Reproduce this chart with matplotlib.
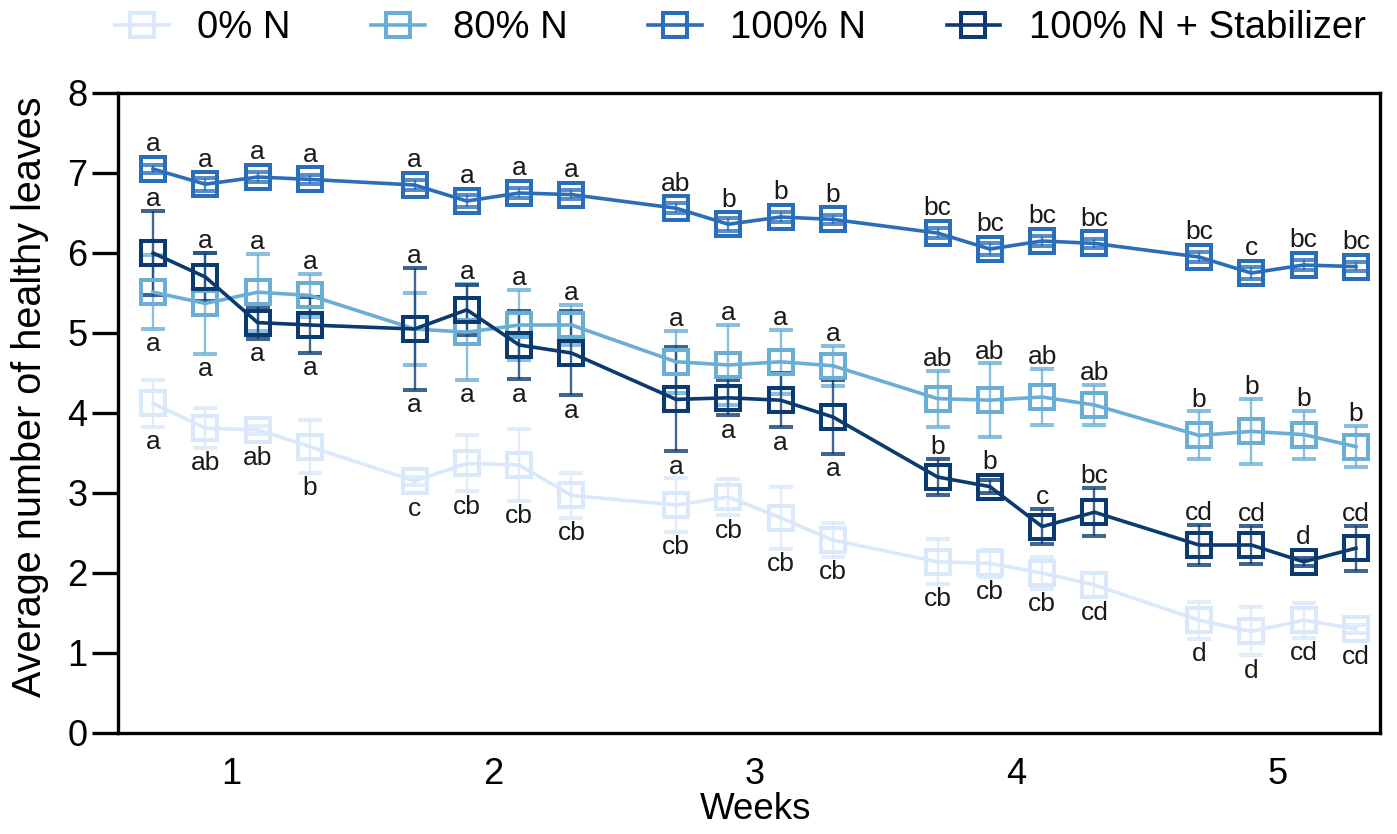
import numpy as np
import matplotlib
matplotlib.use("Agg")
import matplotlib.pyplot as plt
from matplotlib.lines import Line2D
from matplotlib.colors import to_rgba

plt.rcParams['font.family'] = ['Liberation Sans', 'DejaVu Sans']

# ---- data -------------------------------------------------------------
weeks = [1, 2, 3, 4, 5]
samples_per_week = 4

series_names = ["0% N", "80% N", "100% N", "100% N + Stabilizer"]
series_colors = ["#d9e8fb", "#6aaed6", "#2a6db8", "#0a3a70"]

n0_mean = [4.12, 3.81, 3.79, 3.58, 3.15, 3.37, 3.35, 2.97, 2.85, 2.95,
           2.69, 2.41, 2.14, 2.12, 2.00, 1.85, 1.41, 1.27, 1.41, 1.30]
n0_err = [0.29, 0.25, 0.05, 0.33, 0.05, 0.35, 0.45, 0.28, 0.34, 0.23,
          0.39, 0.21, 0.28, 0.17, 0.20, 0.15, 0.23, 0.30, 0.22, 0.05]
n0_letters = ["a", "ab", "ab", "b", "c", "cb", "cb", "cb", "cb", "cb",
              "cb", "cb", "cb", "cb", "cb", "cd", "d", "d", "cd", "cd"]

n80_mean = [5.51, 5.37, 5.51, 5.47, 5.05, 5.01, 5.10, 5.10, 4.64, 4.60,
            4.64, 4.59, 4.18, 4.16, 4.20, 4.10, 3.72, 3.77, 3.73, 3.58]
n80_err = [0.46, 0.63, 0.48, 0.27, 0.45, 0.60, 0.44, 0.25, 0.39, 0.50,
           0.40, 0.25, 0.35, 0.46, 0.35, 0.25, 0.30, 0.41, 0.30, 0.26]
n80_letters = ["a"] * 12 + ["ab"] * 4 + ["b"] * 4

n100_mean = [7.05, 6.86, 6.95, 6.92, 6.85, 6.65, 6.75, 6.73, 6.56, 6.36,
             6.45, 6.42, 6.25, 6.05, 6.15, 6.12, 5.95, 5.75, 5.85, 5.83]
n100_err = [0.05, 0.08, 0.06, 0.06, 0.06, 0.08, 0.06, 0.06, 0.06, 0.08,
            0.06, 0.06, 0.06, 0.08, 0.06, 0.06, 0.06, 0.08, 0.06, 0.06]
n100_letters = ["a"] * 8 + ["ab", "b", "b", "b"] + ["bc"] * 4 + ["bc", "c", "bc", "bc"]

stab_mean = [6.00, 5.70, 5.13, 5.10, 5.05, 5.29, 4.85, 4.75, 4.17, 4.19,
             4.16, 3.95, 3.20, 3.08, 2.58, 2.76, 2.35, 2.35, 2.14, 2.31]
stab_err = [0.53, 0.30, 0.20, 0.35, 0.76, 0.31, 0.43, 0.53, 0.65, 0.22,
            0.34, 0.46, 0.23, 0.08, 0.22, 0.30, 0.25, 0.24, 0.05, 0.28]
stab_letters = ["a"] * 12 + ["b", "b", "c", "bc", "cd", "cd", "d", "cd"]

# which side of each point its letter sits on (+1 above, -1 below)
n0_side = [-1] * 20
n80_side = [-1, -1, 1, 1, -1, -1, 1, 1] + [1] * 12
n100_side = [1] * 20
stab_side = [1, 1, -1, -1, 1, 1, -1, -1, -1, -1, -1, -1] + [1] * 8

means = [n0_mean, n80_mean, n100_mean, stab_mean]
errs = [n0_err, n80_err, n100_err, stab_err]
letters = [n0_letters, n80_letters, n100_letters, stab_letters]
sides = [n0_side, n80_side, n100_side, stab_side]

# ---- positions: four samples per week with a gap between weeks ----------
x = np.array([w * (samples_per_week + 1) + j
              for w in range(len(weeks)) for j in range(samples_per_week)], float)
week_centers = [w * (samples_per_week + 1) + (samples_per_week - 1) / 2
                for w in range(len(weeks))]

# ---- figure ------------------------------------------------------------
W, H = 1397, 834
fig = plt.figure(figsize=(W / 100, H / 100), dpi=100)
ax = fig.add_axes([118 / W, 1 - 733 / H, (1380 - 118) / W, (733 - 93) / H])

ms = 17
for m, e, c in zip(means, errs, series_colors):
    ax.errorbar(x, m, yerr=e, fmt='s-', color=c, mfc='none', mec=c, ms=ms,
                mew=2.9, lw=2.6, elinewidth=1.7, capsize=8.5, capthick=1.7,
                ecolor=to_rgba(c, 0.78))

# significance letters
marker_half = 0.16
mean_arr = [np.asarray(m) for m in means]
err_arr = [np.asarray(e) for e in errs]
for si, (m, e, lab, sd) in enumerate(zip(mean_arr, err_arr, letters, sides)):
    for i in range(len(x)):
        d = sd[i]
        anchor = m[i] + d * max(e[i], marker_half)
        # push past the other middle series' error bar if it covers the anchor
        if si in (1, 3):
            other = 3 if si == 1 else 1
            lo = mean_arr[other][i] - err_arr[other][i]
            hi = mean_arr[other][i] + err_arr[other][i]
            if lo <= anchor <= hi:
                anchor = hi if d > 0 else lo
        dy = 3.5 if d > 0 else -16
        ax.annotate(lab[i], xy=(x[i], anchor), xytext=(0, dy),
                    textcoords='offset points', ha='center', va='baseline',
                    fontsize=19, color='#1a1a1a')

# ---- axes styling ------------------------------------------------------
ax.set_xlim(-0.67, 23.46)
ax.set_ylim(0, 8)
ax.set_yticks(range(0, 9))
ax.set_xticks(week_centers)
ax.set_xticklabels([str(w) for w in weeks])
for sp in ax.spines.values():
    sp.set_linewidth(2.4)
    sp.set_color('black')
ax.tick_params(axis='y', direction='out', length=19, width=2.4, labelsize=26, pad=3)
ax.tick_params(axis='x', length=0, labelsize=26, pad=17)

ax.set_ylabel("Average number of healthy leaves", fontsize=28.5, va='center')
ax.yaxis.set_label_coords(-0.0697, 0.525)
ax.set_xlabel("Weeks", fontsize=26.5, va='center')
ax.xaxis.set_label_coords(0.505, -0.12)

# legend
handles = [Line2D([0], [0], color=c, lw=2.6, marker='s', ms=ms, mfc='none',
                  mec=c, mew=2.9) for c in series_colors]
fig.legend(handles, series_names, loc='center', ncol=4, frameon=False,
           fontsize=27.5, handlelength=1.4, handletextpad=0.75,
           columnspacing=2.1, bbox_to_anchor=(0.53, 0.966))

fig.savefig("out.png", dpi=100)
